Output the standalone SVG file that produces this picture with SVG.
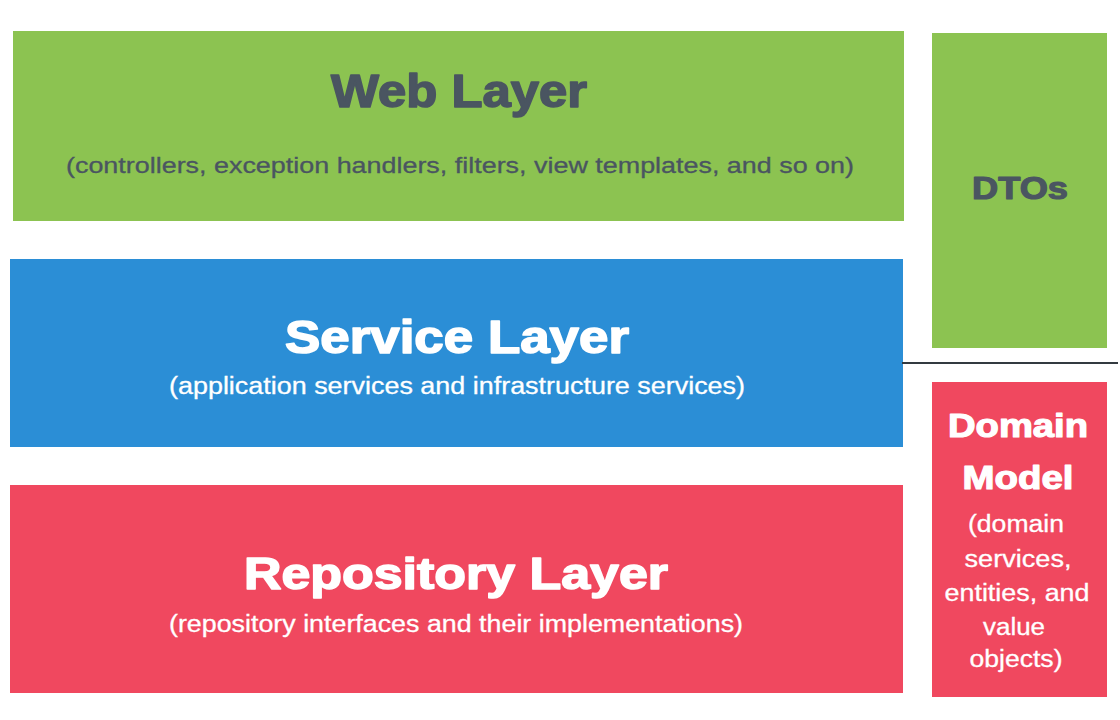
<svg xmlns="http://www.w3.org/2000/svg" width="1120" height="720" viewBox="0 0 1120 720">
<style>
.green{fill:#8cc351}
.blue{fill:#2b8ed6}
.red{fill:#f0485f}
text{font-family:"Liberation Sans",Arial,sans-serif;text-anchor:middle}
.h{font-weight:bold;stroke-width:1.6;stroke-linejoin:round}
.dark{fill:#4a5561;stroke:#4a5561}
.light{fill:#ffffff;stroke:#ffffff}
.s{stroke-width:0.3}
</style>
<rect width="1120" height="720" fill="#ffffff"/>
<g id="web-layer">
<rect class="green" x="13" y="31" width="891" height="190"/>
<text class="h dark" x="459" y="107" font-size="46" textLength="256" lengthAdjust="spacingAndGlyphs">Web Layer</text>
<text class="s dark" x="460" y="173" font-size="22" textLength="788" lengthAdjust="spacingAndGlyphs">(controllers, exception handlers, filters, view templates, and so on)</text>
</g>
<g id="service-layer">
<rect class="blue" x="10" y="259" width="893" height="188"/>
<text class="h light" x="457" y="353" font-size="46" textLength="344" lengthAdjust="spacingAndGlyphs">Service Layer</text>
<text class="s light" x="457" y="394" font-size="23" textLength="576" lengthAdjust="spacingAndGlyphs">(application services and infrastructure services)</text>
</g>
<g id="repository-layer">
<rect class="red" x="10" y="485" width="893" height="208"/>
<text class="h light" x="456" y="589" font-size="45" textLength="424" lengthAdjust="spacingAndGlyphs">Repository Layer</text>
<text class="s light" x="456" y="632" font-size="23" textLength="574" lengthAdjust="spacingAndGlyphs">(repository interfaces and their implementations)</text>
</g>
<g id="dtos">
<rect class="green" x="932" y="33" width="175" height="315"/>
<text class="h dark" x="1020" y="199" font-size="31" textLength="96" lengthAdjust="spacingAndGlyphs" style="stroke-width:1.2">DTOs</text>
</g>
<g id="domain-model">
<rect class="red" x="932" y="382" width="175" height="315"/>
<text class="h light" x="1018" y="437" font-size="33" textLength="140" lengthAdjust="spacingAndGlyphs" style="stroke-width:1.2">Domain</text>
<text class="h light" x="1018" y="489" font-size="33" textLength="111" lengthAdjust="spacingAndGlyphs" style="stroke-width:1.2">Model</text>
<text class="s light" x="1016" y="532" font-size="23" textLength="96" lengthAdjust="spacingAndGlyphs">(domain</text>
<text class="s light" x="1018" y="567" font-size="23" textLength="107" lengthAdjust="spacingAndGlyphs">services,</text>
<text class="s light" x="1017" y="601" font-size="23" textLength="145" lengthAdjust="spacingAndGlyphs">entities, and</text>
<text class="s light" x="1014" y="635" font-size="23" textLength="62" lengthAdjust="spacingAndGlyphs">value</text>
<text class="s light" x="1016" y="667" font-size="23" textLength="93" lengthAdjust="spacingAndGlyphs">objects)</text>
</g>
<g id="connectors">
<line x1="902" y1="363" x2="1118" y2="363" stroke="#333a40" stroke-width="2"/>
</g>
</svg>
